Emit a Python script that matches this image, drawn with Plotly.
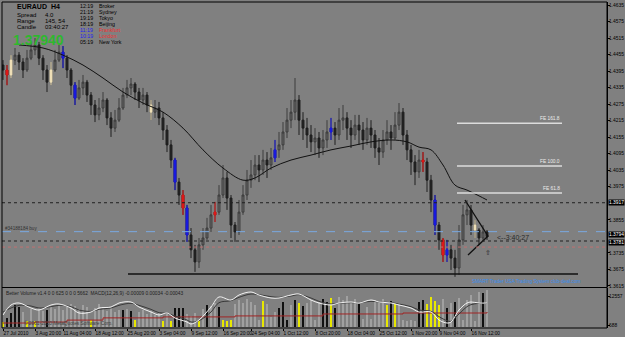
import plotly.graph_objects as go

# ---------------- data ----------------
tick_idx = [0, 8, 15, 23, 31, 39, 47, 55, 62, 70, 78, 86, 94, 102, 109, 117]
tick_labels = ["27 Jul 2010", "3 Aug 20:00", "11 Aug 04:00", "18 Aug 12:00", "25 Aug 20:00",
               "3 Sep 04:00", "9 Sep 12:00", "16 Sep 20:00", "24 Sep 04:00", "1 Oct 12:00",
               "8 Oct 20:00", "18 Oct 04:00", "25 Oct 12:00", "1 Nov 20:00", "9 Nov 04:00",
               "16 Nov 12:00"]

price_ticks = [1.4635, 1.4575, 1.4515, 1.4455, 1.4395, 1.4335, 1.4275, 1.4215, 1.4155,
               1.4095, 1.4035, 1.3975, 1.3855, 1.3735, 1.3675, 1.3615]

opens = [1.4417,1.4399,1.4381,1.4435,1.4453,1.4428,1.4399,1.4442,1.4472,1.4490,
         1.4442,1.4399,1.4355,1.4399,1.4435,1.4464,1.4442,1.4399,1.4344,1.4297,
         1.4334,1.4355,1.4308,1.4272,1.4236,1.4261,1.4290,1.4225,1.4188,1.4217,
         1.4261,1.4308,1.4334,1.4348,1.4319,1.4290,1.4308,1.4272,1.4246,1.4261,
         1.4225,1.4181,1.4127,1.4072,1.3992,1.3945,1.3898,1.3800,1.3746,1.3702,
         1.3764,1.3789,1.3825,1.3873,1.3883,1.3945,1.4007,1.3934,1.3836,1.3811,
         1.3883,1.3945,1.3999,1.4018,1.4054,1.4036,1.4072,1.4054,1.4080,1.4109,
         1.4127,1.4174,1.4217,1.4246,1.4290,1.4217,1.4188,1.4163,1.4138,1.4152,
         1.4116,1.4145,1.4174,1.4188,1.4163,1.4217,1.4225,1.4188,1.4163,1.4199,
         1.4181,1.4145,1.4188,1.4163,1.4116,1.4101,1.4145,1.4174,1.4152,1.4199,
         1.4246,1.4163,1.4109,1.4065,1.4029,1.4072,1.4065,1.3999,1.3927,1.3836,
         1.3782,1.3727,1.3746,1.3716,1.3680,1.3782,1.3873,1.3891,1.3836,1.3818,
         1.3789,1.3811]
highs = [1.4435,1.4417,1.4453,1.4479,1.4464,1.4442,1.4472,1.4501,1.4515,1.4501,
         1.4453,1.4417,1.4428,1.4472,1.4490,1.4486,1.4453,1.4406,1.4355,1.4363,
         1.4381,1.4363,1.4319,1.4290,1.4297,1.4319,1.4297,1.4246,1.4254,1.4297,
         1.4334,1.4363,1.4370,1.4355,1.4334,1.4334,1.4319,1.4290,1.4290,1.4283,
         1.4246,1.4199,1.4145,1.4080,1.4007,1.3963,1.3909,1.3825,1.3764,1.3789,
         1.3825,1.3862,1.3909,1.3920,1.3981,1.4054,1.4029,1.3945,1.3847,1.3927,
         1.3981,1.4036,1.4072,1.4090,1.4090,1.4109,1.4101,1.4116,1.4145,1.4174,
         1.4210,1.4261,1.4290,1.4370,1.4308,1.4246,1.4225,1.4199,1.4188,1.4174,
         1.4181,1.4217,1.4225,1.4210,1.4261,1.4272,1.4246,1.4217,1.4236,1.4236,
         1.4210,1.4225,1.4217,1.4181,1.4152,1.4181,1.4217,1.4199,1.4246,1.4279,
         1.4261,1.4181,1.4127,1.4090,1.4109,1.4101,1.4080,1.4018,1.3945,1.3847,
         1.3789,1.3782,1.3764,1.3746,1.3836,1.3909,1.3927,1.3909,1.3854,1.3825,
         1.3836,1.3818]
lows = [1.4363,1.4344,1.4370,1.4417,1.4399,1.4370,1.4392,1.4435,1.4453,1.4417,
        1.4363,1.4319,1.4344,1.4392,1.4428,1.4406,1.4370,1.4308,1.4272,1.4290,
        1.4308,1.4283,1.4236,1.4210,1.4217,1.4246,1.4199,1.4156,1.4174,1.4210,
        1.4254,1.4297,1.4308,1.4290,1.4261,1.4272,1.4246,1.4217,1.4225,1.4199,
        1.4145,1.4101,1.4043,1.3963,1.3909,1.3873,1.3775,1.3716,1.3666,1.3680,
        1.3746,1.3782,1.3811,1.3847,1.3873,1.3934,1.3891,1.3789,1.3775,1.3800,
        1.3873,1.3927,1.3971,1.3999,1.3992,1.4018,1.4007,1.4036,1.4065,1.4080,
        1.4109,1.4152,1.4188,1.4217,1.4163,1.4145,1.4116,1.4101,1.4090,1.4080,
        1.4090,1.4116,1.4145,1.4127,1.4145,1.4181,1.4145,1.4116,1.4145,1.4127,
        1.4109,1.4127,1.4116,1.4080,1.4054,1.4080,1.4127,1.4109,1.4145,1.4181,
        1.4127,1.4072,1.4018,1.3981,1.4007,1.4029,1.3956,1.3883,1.3800,1.3746,
        1.3702,1.3702,1.3673,1.3648,1.3655,1.3764,1.3836,1.3800,1.3789,1.3764,
        1.3775,1.3782]
closes = [1.4399,1.4381,1.4435,1.4453,1.4428,1.4399,1.4442,1.4472,1.4490,1.4442,
          1.4399,1.4355,1.4399,1.4435,1.4464,1.4442,1.4399,1.4344,1.4297,1.4334,
          1.4355,1.4308,1.4272,1.4236,1.4261,1.4290,1.4225,1.4188,1.4217,1.4261,
          1.4308,1.4334,1.4348,1.4319,1.4290,1.4308,1.4272,1.4246,1.4261,1.4225,
          1.4181,1.4127,1.4072,1.3992,1.3945,1.3898,1.3800,1.3746,1.3702,1.3764,
          1.3789,1.3825,1.3873,1.3883,1.3945,1.4007,1.3934,1.3836,1.3811,1.3883,
          1.3945,1.3999,1.4018,1.4054,1.4036,1.4072,1.4054,1.4080,1.4109,1.4127,
          1.4174,1.4217,1.4246,1.4290,1.4217,1.4188,1.4163,1.4138,1.4152,1.4116,
          1.4145,1.4174,1.4188,1.4163,1.4217,1.4225,1.4188,1.4163,1.4199,1.4181,
          1.4145,1.4188,1.4163,1.4116,1.4101,1.4145,1.4174,1.4152,1.4199,1.4246,
          1.4163,1.4109,1.4065,1.4029,1.4072,1.4065,1.3999,1.3927,1.3836,1.3782,
          1.3727,1.3746,1.3716,1.3680,1.3782,1.3873,1.3891,1.3836,1.3818,1.3789,
          1.3811,1.3794]

red_idx = [1, 45, 53, 105, 110]
blue_idx = [15, 18, 43, 46, 68, 82, 108, 111]
beige_idx = [2, 12, 37, 118]

ma_idx = [4, 10, 15, 20, 25, 30, 35, 40, 45, 50, 55, 60, 63, 67, 72, 77, 82, 87, 92, 97,
          101, 104, 107, 110, 113, 116, 119, 121]
ma_val = [1.4490, 1.4479, 1.4453, 1.4417, 1.4370, 1.4319, 1.4279, 1.4246, 1.4188, 1.4109,
          1.4043, 1.3999, 1.4007, 1.4043, 1.4072, 1.4090, 1.4109, 1.4123, 1.4138, 1.4145,
          1.4138, 1.4119, 1.4109, 1.4054, 1.3981, 1.3963, 1.3942, 1.3927]

vol = [1900,3550,5600,8870,8050,6000,2300,7200,2300,7600,
       6400,6800,8500,7200,8900,6800,8000,9300,8500,7200,
       8900,8000,2700,7600,9300,7200,6400,7600,6000,6800,
       6800,7200,6400,2700,6000,6800,5200,6400,4800,6000,
       2300,5600,2300,7600,7600,7600,5200,4400,5600,2700,
       7200,8900,8500,9700,8000,2700,2300,2700,9300,10900,
       9700,11300,10100,8900,2700,10500,9300,4000,6000,7600,
       10100,2700,8900,10900,9700,8500,9700,10900,2700,10100,
       11300,10100,11700,7600,12100,10900,12500,10100,11300,9300,
       3100,8000,3100,10900,9700,11300,8900,10500,9700,9700,
       2700,2300,2700,2300,10100,10900,9300,12100,10500,8900,
       11300,7600,9700,10100,11700,2700,10900,12900,2300,14200,
       13800,15000]
vol_type = list("ykkkkgygyg" "gkgggggggg" "ggyggggggg" "kgkyggggg" "g" "ygykkkgggy"
                "gkggkyyygg" "gggggygggk" "kkgkyk" "ggggkkykgg" "gggkgggggg"
                "yky" "gggggkk" "yyyygkgkggggggkgyggyk" "kk")

macd_idx = [0, 2, 4, 7, 9, 12, 14, 17, 19, 22, 24, 27, 29, 32, 34, 37, 39, 41, 43, 46, 47, 49,
            52, 54, 57, 59, 62, 64, 67, 69, 72, 74, 77, 79, 82, 84, 87, 89, 92, 94, 97, 99,
            102, 104, 107, 109, 111, 112, 114, 116, 117, 119, 121]
macd_main = [-0.00105, 0.00045, 0.00075, 0.0, -0.0003, 0.00045, 0.0006, 0.0, -0.00075, -0.0006,
             0.0, 0.00015, 0.00075, 0.0009, 0.00015, -0.0006, -0.00105, -0.00075, -0.0015, -0.0021,
             -0.0024, -0.0018, 0.00015, 0.00165, 0.0012, 0.00195, 0.0024, 0.00195, 0.0015, 0.0015,
             0.00195, 0.0021, 0.0012, 0.00075, 0.00045, 0.00075, 0.0009, 0.00075, 0.0012, 0.0009,
             0.00075, 0.00045, 0.0, -0.0006, -0.0006, -0.0018, -0.00225, -0.0021, -0.0003, 0.00075,
             0.0009, 0.00075, 0.00075]
macd_signal = [-0.0006, 0.0, 0.0004, 0.0003, 0.0, 0.0002, 0.0004, 0.0002, -0.0003, -0.0005,
               -0.0002, 0.0, 0.0004, 0.0007, 0.0004, -0.0002, -0.0007, -0.0008, -0.0012, -0.0018,
               -0.0021, -0.0019, -0.0006, 0.0008, 0.0011, 0.0016, 0.0021, 0.002, 0.0017, 0.0016,
               0.0018, 0.002, 0.0015, 0.001, 0.0006, 0.0007, 0.0008, 0.0008, 0.001, 0.0009,
               0.0008, 0.0006, 0.0002, -0.0003, -0.0005, -0.0013, -0.0019, -0.002, -0.0009, 0.0002,
               0.0005, 0.0007, 0.0007]

avg_idx = [0, 8, 16, 25, 40, 58, 80, 100, 121]
avg_val = [1500, 1900, 2700, 3600, 4000, 4400, 5200, 5600, 6000]

fe_levels = [1.4206, 1.4050, 1.3952]
fe_labels = ["FE 161.8", "FE 100.0", "FE 61.8"]
fe_span = [113.5, 139.75]

support_level = 1.3658
support_span = [31.25, 143.75]

tri_x = [115.5, 121.25, 116.25]
tri_y = [1.3927, 1.3796, 1.3727]

order_dotted = [1.3917, 1.3778]
ask_level = 1.3812
stop_level = 1.3756
hl_labels = [("1.3917", 1.3917, 0), ("1.3794", 1.3794, 2), ("1.3781", 1.3781, -2)]

vol_ticks = [688, 12557]

# ---------------- geometry ----------------
W, H = 625, 337
ML, MR, MT, MB = 2, 18, 2, 9
PW, PH = W - ML - MR, H - MT - MB


def P(px, py):
    return (px - ML) / PW, (H - MB - py) / PH


main_bottom = P(0, 287)[1]
sub_top = P(0, 288)[1]

BG = "#808080"
FONT = "Liberation Sans, Arial, sans-serif"

idx = list(range(len(closes)))
fig = go.Figure()

fig.add_trace(go.Candlestick(
    x=idx, open=opens, high=highs, low=lows, close=closes,
    increasing=dict(line=dict(color="#3c3c3c", width=1), fillcolor="#6a6a6a"),
    decreasing=dict(line=dict(color="#1e1e1e", width=1), fillcolor="#262626"),
    whiskerwidth=0, xaxis="x", yaxis="y", hoverinfo="skip"))

for sel, col in [(red_idx, "#e01818"), (blue_idx, "#1a1ae0"), (beige_idx, "#efe0b8")]:
    fig.add_trace(go.Candlestick(
        x=sel, open=[opens[i] for i in sel], high=[highs[i] for i in sel],
        low=[lows[i] for i in sel], close=[closes[i] for i in sel],
        increasing=dict(line=dict(color=col, width=1), fillcolor=col),
        decreasing=dict(line=dict(color=col, width=1), fillcolor=col),
        whiskerwidth=0, xaxis="x", yaxis="y", hoverinfo="skip"))

fig.add_trace(go.Scatter(x=ma_idx, y=ma_val, mode="lines", line=dict(color="#111111", width=1, shape="spline"),
                         xaxis="x", yaxis="y", hoverinfo="skip"))

for lv in fe_levels:
    fig.add_trace(go.Scatter(x=fe_span, y=[lv, lv], mode="lines", line=dict(color="#dcdcdc", width=1.5),
                             xaxis="x", yaxis="y", hoverinfo="skip"))
fig.add_trace(go.Scatter(x=support_span, y=[support_level, support_level], mode="lines",
                         line=dict(color="#101010", width=1.5), xaxis="x", yaxis="y", hoverinfo="skip"))
fig.add_trace(go.Scatter(x=tri_x, y=tri_y, mode="lines", line=dict(color="#101010", width=1.3),
                         xaxis="x", yaxis="y", hoverinfo="skip"))

vcol = {"g": "#a0a0a0", "k": "#101010", "y": "#e8e800"}
fig.add_trace(go.Bar(x=idx, y=vol, marker=dict(color=[vcol[t] for t in vol_type], line=dict(width=0)),
                     width=0.6, xaxis="x", yaxis="y2", hoverinfo="skip"))
fig.add_trace(go.Scatter(x=avg_idx, y=avg_val, mode="lines", line=dict(color="#a02424", width=1, shape="hv"),
                         xaxis="x", yaxis="y2", hoverinfo="skip"))
fig.add_trace(go.Scatter(x=macd_idx, y=macd_signal, mode="lines", line=dict(color="#3a3a3a", width=1, shape="spline"),
                         xaxis="x", yaxis="y3", hoverinfo="skip"))
fig.add_trace(go.Scatter(x=macd_idx, y=macd_main, mode="lines", line=dict(color="#f2f2f2", width=1, shape="spline"),
                         xaxis="x", yaxis="y3", hoverinfo="skip"))

shapes = []
for lv in order_dotted:
    shapes.append(dict(type="line", xref="paper", yref="y", x0=0, x1=1, y0=lv, y1=lv,
                       line=dict(color="#202020", width=1, dash="dot")))
shapes.append(dict(type="line", xref="paper", yref="y", x0=0, x1=1, y0=ask_level, y1=ask_level,
                   line=dict(color="#7aa8e0", width=1, dash="dash")))
shapes.append(dict(type="line", xref="paper", yref="y", x0=0, x1=1, y0=stop_level, y1=stop_level,
                   line=dict(color="#c07070", width=1, dash="dot")))
shapes.append(dict(type="rect", xref="paper", yref="paper", x0=0, x1=1, y0=0, y1=1,
                   line=dict(color="#000000", width=1)))
shapes.append(dict(type="line", xref="paper", yref="paper", x0=0, x1=1, y0=(main_bottom + sub_top) / 2,
                   y1=(main_bottom + sub_top) / 2, line=dict(color="#000000", width=1)))

ann = []


def txt(px, py, s, size=5.5, color="#000000", bold=False, anchor="left"):
    x, y = P(px, py)
    ann.append(dict(x=x, y=y, xref="paper", yref="paper", text=("<b>%s</b>" % s) if bold else s,
                    showarrow=False, xanchor=anchor, yanchor="middle",
                    font=dict(size=size, color=color, family=FONT)))


txt(15, 6, "EURAUD", 7, bold=True)
txt(49, 6, "H4", 7, bold=True)
txt(15, 14.5, "Spread", 6); txt(43, 14.5, "4.0", 6)
txt(15, 21, "Range", 6); txt(43, 21, "145, 54", 6)
txt(15, 27.5, "Candle", 6); txt(43, 27.5, "03:40:27", 6)
txt(11, 40.5, "1.37940", 14, color="#2eb82e", bold=True)
rows = [("12:19", "Broker", "#000000", "#000000"), ("21:19", "Sydney", "#000000", "#000000"),
        ("19:19", "Tokyo", "#000000", "#000000"), ("18:19", "Beijing", "#000000", "#000000"),
        ("11:19", "Frankfurt", "#2222ee", "#ee3030"), ("10:19", "London", "#2222ee", "#ee3030"),
        ("05:19", "New York", "#000000", "#000000")]
for k, (t, nm, c1, c2) in enumerate(rows):
    yy = 6 + k * 6
    txt(78, yy, t, 5.3, color=c1)
    txt(97, yy, nm, 5.3, color=c2)

txt(3, 228, "#34188184 buy", 4.6, color="#303030")
txt(4, 293, "Better Volume v1.4 0 0 625 0 0 0 5662  MACD(12,26,9) -0.00009 0.00034 -0.00043", 4.8, color="#202020")
txt(22, 323, "© 2001-2010 MetaQuotes Software Corp.", 4.8, color="#404040")
txt(583, 281, "SMART Trader USA Trading System club-deal.com", 4.8, color="#3a8ff0", anchor="right")

for lv, lab in zip(fe_levels, fe_labels):
    ann.append(dict(x=fe_span[1], y=lv, xref="x", yref="y", text=lab, showarrow=False,
                    xanchor="right", yanchor="bottom",
                    font=dict(size=4.8, color="#ececec", family=FONT)))

ann.append(dict(x=123, y=1.3789, xref="x", yref="y", text="<--3:40:27", showarrow=False,
                xanchor="left", yanchor="middle", font=dict(size=7, color="#2a2a2a", family=FONT)))
ann.append(dict(x=tri_x[1], y=1.3735, xref="x", yref="y", text="⇧", showarrow=False,
                xanchor="center", yanchor="middle", font=dict(size=7, color="#202020", family="DejaVu Sans")))

for lab, lv, sh in hl_labels:
    ann.append(dict(x=1, y=lv, xref="paper", yref="y", text=lab, showarrow=False, xanchor="left",
                    yanchor="middle", xshift=1, yshift=sh, bgcolor="#000000", borderpad=0,
                    font=dict(size=4.9, color="#ffffff", family=FONT)))

fig.update_layout(
    width=W, height=H, margin=dict(l=ML, r=MR, t=MT, b=MB, pad=0, autoexpand=False),
    paper_bgcolor=BG, plot_bgcolor=BG, showlegend=False,
    shapes=shapes, annotations=ann, bargap=0,
    xaxis=dict(domain=[0, 1], range=[-0.25, 151], anchor="y2", tickvals=tick_idx, ticktext=tick_labels,
               ticks="outside", ticklen=2, tickcolor="#000000", ticklabelposition="outside right",
               tickangle=0, automargin=False,
               tickfont=dict(size=4.8, color="#000000", family=FONT), showgrid=False, zeroline=False,
               showline=False, rangeslider=dict(visible=False), fixedrange=True),
    yaxis=dict(domain=[main_bottom, 1], range=[1.3611, 1.4646], side="right", anchor="x",
               tickvals=price_ticks, ticktext=["%.4f" % v for v in price_ticks],
               ticks="outside", ticklen=2, tickcolor="#000000", automargin=False,
               ticklabelstandoff=-2,
               tickfont=dict(size=4.9, color="#000000", family=FONT),
               showgrid=False, zeroline=False, showline=True, linecolor="#000000"),
    yaxis2=dict(domain=[0, sub_top], range=[-540, 15831], side="right", anchor="x",
                tickvals=vol_ticks, ticktext=[str(v) for v in vol_ticks],
                ticks="outside", ticklen=2, tickcolor="#000000", automargin=False,
                ticklabelstandoff=-2,
                tickfont=dict(size=4.9, color="#000000", family=FONT),
                showgrid=False, zeroline=False, showline=True, linecolor="#000000"),
    yaxis3=dict(overlaying="y2", range=[-0.003, 0.003], visible=False),
)

fig.write_html("out.html", config={"displayModeBar": False})
